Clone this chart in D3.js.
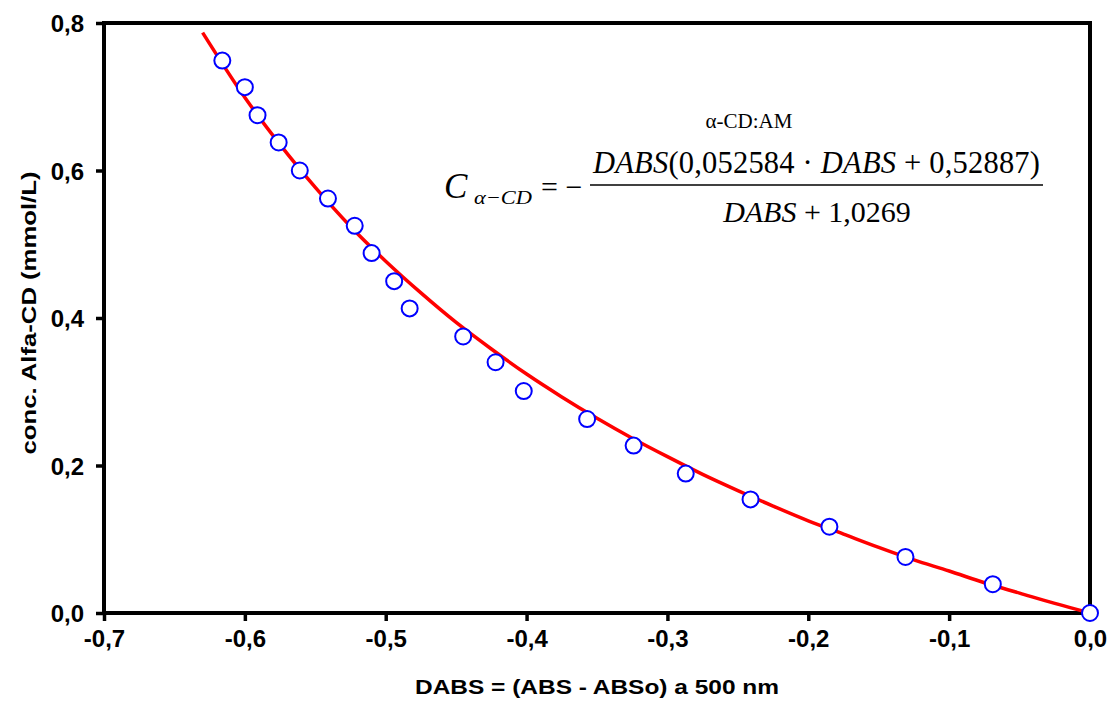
<!DOCTYPE html>
<html>
<head>
<meta charset="utf-8">
<script src="https://cdn.jsdelivr.net/npm/d3@7"></script>
<style>
  body { margin: 0; background: #fff; }
  svg { display: block; }
</style>
</head>
<body>
<div id="chart"></div>
<script>
var width = 1111, height = 701;

// measured points: DABS vs conc. alfa-CD
var dabs = [-0.616, -0.600, -0.591, -0.576, -0.561, -0.541, -0.522, -0.510, -0.494, -0.483,
            -0.445, -0.422, -0.402, -0.357, -0.324, -0.287, -0.241, -0.185, -0.131, -0.069, 0.0];
var conc = [0.749, 0.713, 0.675, 0.638, 0.600, 0.562, 0.525, 0.488, 0.450, 0.413,
            0.375, 0.340, 0.301, 0.263, 0.227, 0.189, 0.154, 0.117, 0.076, 0.039, 0.0];

// fitted curve
var fitX = [-0.630, -0.600, -0.575, -0.550, -0.525, -0.500, -0.475, -0.450, -0.425, -0.400,
            -0.375, -0.350, -0.325, -0.300, -0.275, -0.250, -0.225, -0.200, -0.175, -0.150,
            -0.125, -0.100, -0.075, -0.050, -0.025, 0.0];
var fitY = [0.787, 0.699, 0.635, 0.577, 0.524, 0.477, 0.434, 0.394, 0.358, 0.324,
            0.293, 0.264, 0.237, 0.212, 0.188, 0.166, 0.145, 0.125, 0.107, 0.089,
            0.072, 0.057, 0.041, 0.027, 0.013, 0.0];

var xTicks = [-0.7, -0.6, -0.5, -0.4, -0.3, -0.2, -0.1, 0.0];
var yTicks = [0.0, 0.2, 0.4, 0.6, 0.8];

var margin = {top: 23, right: 21, bottom: 88, left: 104};
var sans = "Liberation Sans, Arial, sans-serif";
var serif = "Liberation Serif, Times New Roman, serif";

var svg = d3.select("#chart").append("svg")
    .attr("width", width)
    .attr("height", height);

var xScale = d3.scaleLinear()
    .domain([-0.7, 0])
    .range([margin.left, width - margin.right]);
var yScale = d3.scaleLinear()
    .domain([0, 0.8])
    .range([height - margin.bottom, margin.top]);

var locale = d3.formatLocale({decimal: ",", thousands: ".", grouping: [3], currency: ["", ""], minus: "-"});
var fmt = locale.format(".1f");

// axes
var xAxis = d3.axisBottom(xScale).tickValues(xTicks).tickFormat(fmt).tickSize(8).tickPadding(9);
var yAxis = d3.axisLeft(yScale).tickValues(yTicks).tickFormat(fmt).tickSize(8).tickPadding(12);

var gx = svg.append("g")
    .attr("transform", "translate(0," + yScale(0) + ")")
    .call(xAxis);
var gy = svg.append("g")
    .attr("transform", "translate(" + xScale(-0.7) + ",0)")
    .call(yAxis);

[gx, gy].forEach(function (g) {
    g.select(".domain").remove();
    g.selectAll(".tick line").attr("stroke", "#000").attr("stroke-width", 3.5);
    g.selectAll(".tick text")
        .attr("fill", "#000")
        .style("font-family", sans)
        .style("font-weight", "bold")
        .style("font-size", "24px");
});
gy.selectAll(".tick text").attr("dy", "0.36em");

// frame
svg.append("rect")
    .attr("x", xScale(-0.7))
    .attr("y", yScale(0.8))
    .attr("width", xScale(0) - xScale(-0.7))
    .attr("height", yScale(0) - yScale(0.8))
    .attr("fill", "none")
    .attr("stroke", "#000")
    .attr("stroke-width", 4);

// fitted line
var line = d3.line()
    .x(function (d, i) { return xScale(fitX[i]); })
    .y(function (d) { return yScale(d); })
    .curve(d3.curveMonotoneX);

svg.append("path")
    .datum(fitY)
    .attr("fill", "none")
    .attr("stroke", "#ff0000")
    .attr("stroke-width", 3.5)
    .attr("d", line);

// data points
svg.selectAll("circle.pt")
    .data(conc)
    .enter().append("circle")
    .attr("class", "pt")
    .attr("cx", function (d, i) { return xScale(dabs[i]); })
    .attr("cy", function (d) { return yScale(d); })
    .attr("r", 8)
    .attr("fill", "#fff")
    .attr("stroke", "#0000ff")
    .attr("stroke-width", 2);

// axis titles
svg.append("text")
    .attr("x", (xScale(-0.7) + xScale(0)) / 2)
    .attr("y", 694)
    .attr("text-anchor", "middle")
    .attr("textLength", 364)
    .attr("lengthAdjust", "spacingAndGlyphs")
    .style("font-family", sans)
    .style("font-weight", "bold")
    .style("font-size", "21px")
    .text("DABS = (ABS - ABSo) a 500 nm");

svg.append("text")
    .attr("transform", "translate(36,313) rotate(-90)")
    .attr("text-anchor", "middle")
    .attr("textLength", 283)
    .attr("lengthAdjust", "spacingAndGlyphs")
    .style("font-family", sans)
    .style("font-weight", "bold")
    .style("font-size", "21px")
    .text("conc. Alfa-CD (mmol/L)");

// equation annotation
svg.append("text")
    .attr("x", 749).attr("y", 128)
    .attr("text-anchor", "middle")
    .style("font-family", serif)
    .style("font-size", "21px")
    .text("\u03b1-CD:AM");

svg.append("text")
    .attr("x", 444).attr("y", 198)
    .style("font-family", serif)
    .style("font-style", "italic")
    .style("font-size", "35px")
    .text("C");
svg.append("text")
    .attr("x", 474).attr("y", 204)
    .attr("textLength", 58)
    .attr("lengthAdjust", "spacingAndGlyphs")
    .style("font-family", serif)
    .style("font-style", "italic")
    .style("font-size", "19px")
    .text("\u03b1\u2212CD");
svg.append("text")
    .attr("x", 541).attr("y", 197)
    .style("font-family", serif)
    .style("font-size", "30px")
    .text("= \u2212");

var num = svg.append("text")
    .attr("x", 593).attr("y", 173)
    .attr("textLength", 447)
    .attr("lengthAdjust", "spacing")
    .style("font-family", serif)
    .style("font-size", "30.5px");
num.append("tspan").style("font-style", "italic").text("DABS");
num.append("tspan").text("(0,052584 \u00b7 ");
num.append("tspan").style("font-style", "italic").text("DABS");
num.append("tspan").text(" + 0,52887)");

svg.append("line")
    .attr("x1", 590).attr("x2", 1043)
    .attr("y1", 185).attr("y2", 185)
    .attr("stroke", "#000")
    .attr("stroke-width", 1.5);

var den = svg.append("text")
    .attr("x", 817).attr("y", 222)
    .attr("text-anchor", "middle")
    .style("font-family", serif)
    .style("font-size", "30px");
den.append("tspan").style("font-style", "italic").text("DABS");
den.append("tspan").text(" + 1,0269");
</script>
</body>
</html>
